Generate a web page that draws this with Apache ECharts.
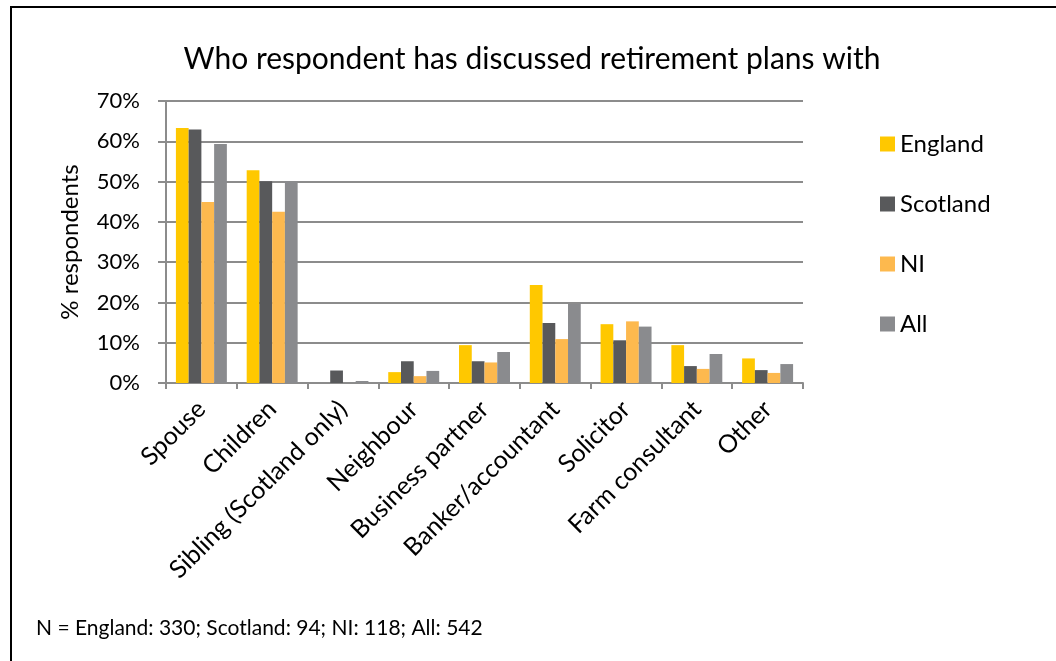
<!DOCTYPE html>
<html>
<head>
<meta charset="utf-8">
<script src="https://cdn.jsdelivr.net/npm/echarts@6/dist/echarts.min.js"></script>
<style>
  html, body { margin: 0; padding: 0; background: #fff; overflow: hidden; }
  #frame { position: absolute; left: 10px; top: 6px; width: 1200px; height: 800px;
           border: 2px solid #000; box-sizing: border-box; }
  #chart { position: absolute; left: 0; top: 0; width: 1056px; height: 661px; }
</style>
</head>
<body>
<div id="frame"></div>
<div id="chart"></div>
<script>
// Who respondent has discussed retirement plans with (% of respondents)
const categories = ['Spouse', 'Children', 'Sibling (Scotland only)', 'Neighbour',
  'Business partner', 'Banker/accountant', 'Solicitor', 'Farm consultant', 'Other'];
const england  = [63.3, 52.8, 0,   2.7, 9.4, 24.3, 14.6, 9.4, 6.1];
const scotland = [62.9, 50.1, 3.1, 5.4, 5.4, 14.9, 10.6, 4.2, 3.2];
const ni       = [44.9, 42.5, 0,   1.7, 5.1, 10.9, 15.3, 3.5, 2.5];
const all      = [59.3, 50.1, 0.5, 3.0, 7.7, 19.7, 14.0, 7.2, 4.7];
const seriesNames = ['England', 'Scotland', 'NI', 'All'];
const yTicks = { min: 0, max: 70, interval: 10 };
const note = 'N = England: 330; Scotland: 94; NI: 118; All: 542';

const FONT = 'Lato';
const colors = ['#FFC800', '#58595B', '#FDB94E', '#8A8B8E'];
const gridColor = '#8C8C8C';

const chart = echarts.init(document.getElementById('chart'));
const seriesData = [england, scotland, ni, all];

chart.setOption({
  animation: false,
  color: colors,
  textStyle: { fontFamily: FONT, color: '#000' },
  title: [{
    text: 'Who respondent has discussed retirement plans with',
    left: 527, top: 39, textAlign: 'center',
    textStyle: { fontFamily: FONT, fontSize: 30, fontWeight: 'normal', color: '#000' }
  }, {
    text: note,
    left: 31, top: 613,
    textStyle: { fontFamily: FONT, fontSize: 21, fontWeight: 'normal', color: '#000' }
  }],
  legend: {
    orient: 'vertical', left: 875, top: 127,
    itemWidth: 15, itemHeight: 15, itemGap: 36,
    icon: 'rect',
    textStyle: { fontFamily: FONT, fontSize: 24, color: '#000', lineHeight: 24 },
    data: seriesNames
  },
  grid: { left: 166, top: 101, right: 253, bottom: 278, containLabel: false },
  xAxis: {
    type: 'category',
    data: categories,
    axisLine: { lineStyle: { color: gridColor, width: 2 } },
    axisTick: { show: true, alignWithLabel: false, length: 6, lineStyle: { color: gridColor, width: 2 } },
    axisLabel: { rotate: 45, interval: 0, margin: 22, color: '#000', fontFamily: FONT, fontSize: 25 }
  },
  yAxis: {
    type: 'value',
    min: yTicks.min, max: yTicks.max, interval: yTicks.interval,
    name: '% respondents', nameLocation: 'middle', nameGap: 84, nameRotate: 90,
    nameTextStyle: { fontFamily: FONT, fontSize: 24, color: '#000' },
    axisLine: { show: true, lineStyle: { color: gridColor, width: 2 } },
    axisTick: { show: true, inside: false, length: 8, lineStyle: { color: gridColor, width: 2 } },
    axisLabel: { formatter: '{value}%', margin: 26, color: '#000', fontFamily: FONT, fontSize: 22 },
    splitLine: { lineStyle: { color: gridColor, width: 2 } }
  },
  series: seriesNames.map((name, i) => ({
    name, type: 'bar', data: seriesData[i],
    barGap: '0%', barCategoryGap: '28%',
    itemStyle: { color: colors[i] }
  }))
});
</script>
</body>
</html>
